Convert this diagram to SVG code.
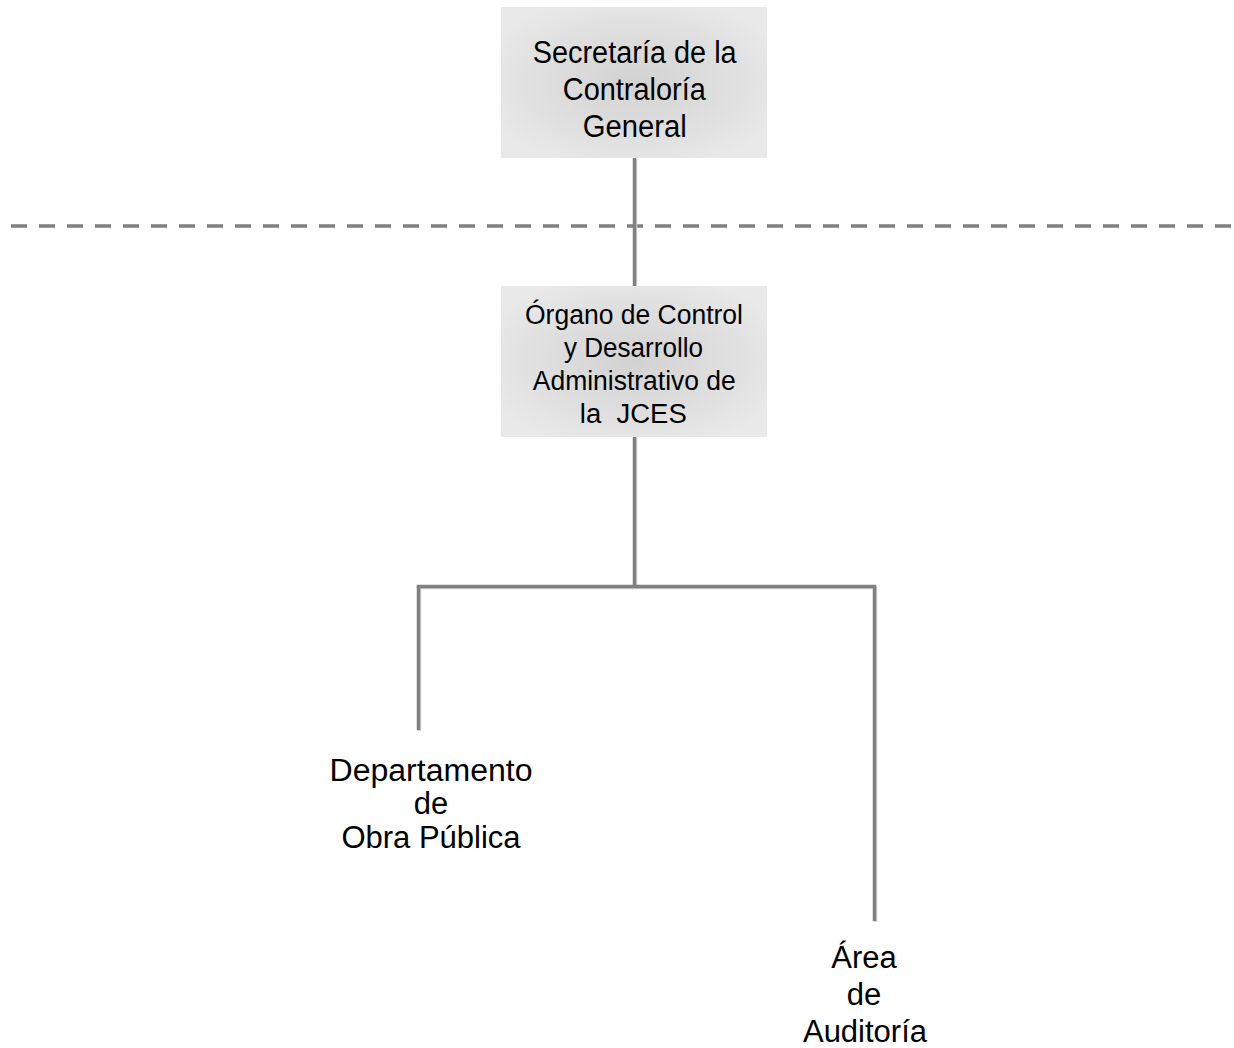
<svg xmlns="http://www.w3.org/2000/svg" width="1234" height="1048" viewBox="0 0 1234 1048">
  <defs>
    <radialGradient id="boxGrad" cx="50%" cy="50%" r="60%">
      <stop offset="0%" stop-color="#d2d2d2"/>
      <stop offset="55%" stop-color="#dedede"/>
      <stop offset="100%" stop-color="#e9e9e9"/>
    </radialGradient>
  </defs>
  <style>
    .box { fill: url(#boxGrad); }
    .t { font-family: "Liberation Sans", Arial, sans-serif; fill: #000; text-anchor: middle; }
    .t1 { font-size: 31px; }
    .t2 { font-size: 27px; }
    .t3 { font-size: 31px; }
    .ln { stroke: #808080; stroke-width: 3.5; fill: none; }
    .sh { stroke: #d4d4d4; stroke-width: 3.5; fill: none; }
    .dash { stroke: #808080; stroke-width: 3.5; stroke-dasharray: 16 12; fill: none; }
  </style>
  <rect width="1234" height="1048" fill="#ffffff"/>

  <g id="connectors">
    <line class="dash" x1="11" y1="226" x2="1234" y2="226"/>
    <g transform="translate(1,1)">
      <line class="sh" x1="634.5" y1="158" x2="634.5" y2="286"/>
      <line class="sh" x1="634.5" y1="437" x2="634.5" y2="586"/>
      <line class="sh" x1="418.5" y1="586.5" x2="874.5" y2="586.5"/>
      <line class="sh" x1="418.5" y1="586.5" x2="418.5" y2="730"/>
      <line class="sh" x1="874.5" y1="586.5" x2="874.5" y2="921"/>
    </g>
    <line class="ln" x1="634.5" y1="158" x2="634.5" y2="286"/>
    <line class="ln" x1="634.5" y1="437" x2="634.5" y2="586"/>
    <line class="ln" x1="416.75" y1="586.5" x2="876.25" y2="586.5"/>
    <line class="ln" x1="418.5" y1="586.5" x2="418.5" y2="730"/>
    <line class="ln" x1="874.5" y1="586.5" x2="874.5" y2="921"/>
  </g>

  <g id="node-secretaria">
    <rect class="box" x="501" y="7" width="266" height="151"/>
    <text class="t t1" x="634.7" y="63" textLength="204" lengthAdjust="spacingAndGlyphs">Secretaría de la</text>
    <text class="t t1" x="634.3" y="100" textLength="143" lengthAdjust="spacingAndGlyphs">Contraloría</text>
    <text class="t t1" x="634.7" y="137" textLength="104" lengthAdjust="spacingAndGlyphs">General</text>
  </g>

  <g id="node-organo">
    <rect class="box" x="501" y="286" width="266" height="151"/>
    <text class="t t2" x="634" y="324" textLength="218" lengthAdjust="spacingAndGlyphs">Órgano de Control</text>
    <text class="t t2" x="633.5" y="357" textLength="139" lengthAdjust="spacingAndGlyphs">y Desarrollo</text>
    <text class="t t2" x="634.3" y="390" textLength="203" lengthAdjust="spacingAndGlyphs">Administrativo de</text>
    <text class="t t2" x="633.3" y="423" textLength="107" lengthAdjust="spacingAndGlyphs" xml:space="preserve">la  JCES</text>
  </g>

  <g id="node-obra">
    <text class="t t3" x="431" y="781" textLength="203" lengthAdjust="spacingAndGlyphs">Departamento</text>
    <text class="t t3" x="431" y="814">de</text>
    <text class="t t3" x="431" y="848">Obra Pública</text>
  </g>

  <g id="node-auditoria">
    <text class="t t3" x="864" y="968">Área</text>
    <text class="t t3" x="864" y="1005">de</text>
    <text class="t t3" x="865" y="1042">Auditoría</text>
  </g>
</svg>
